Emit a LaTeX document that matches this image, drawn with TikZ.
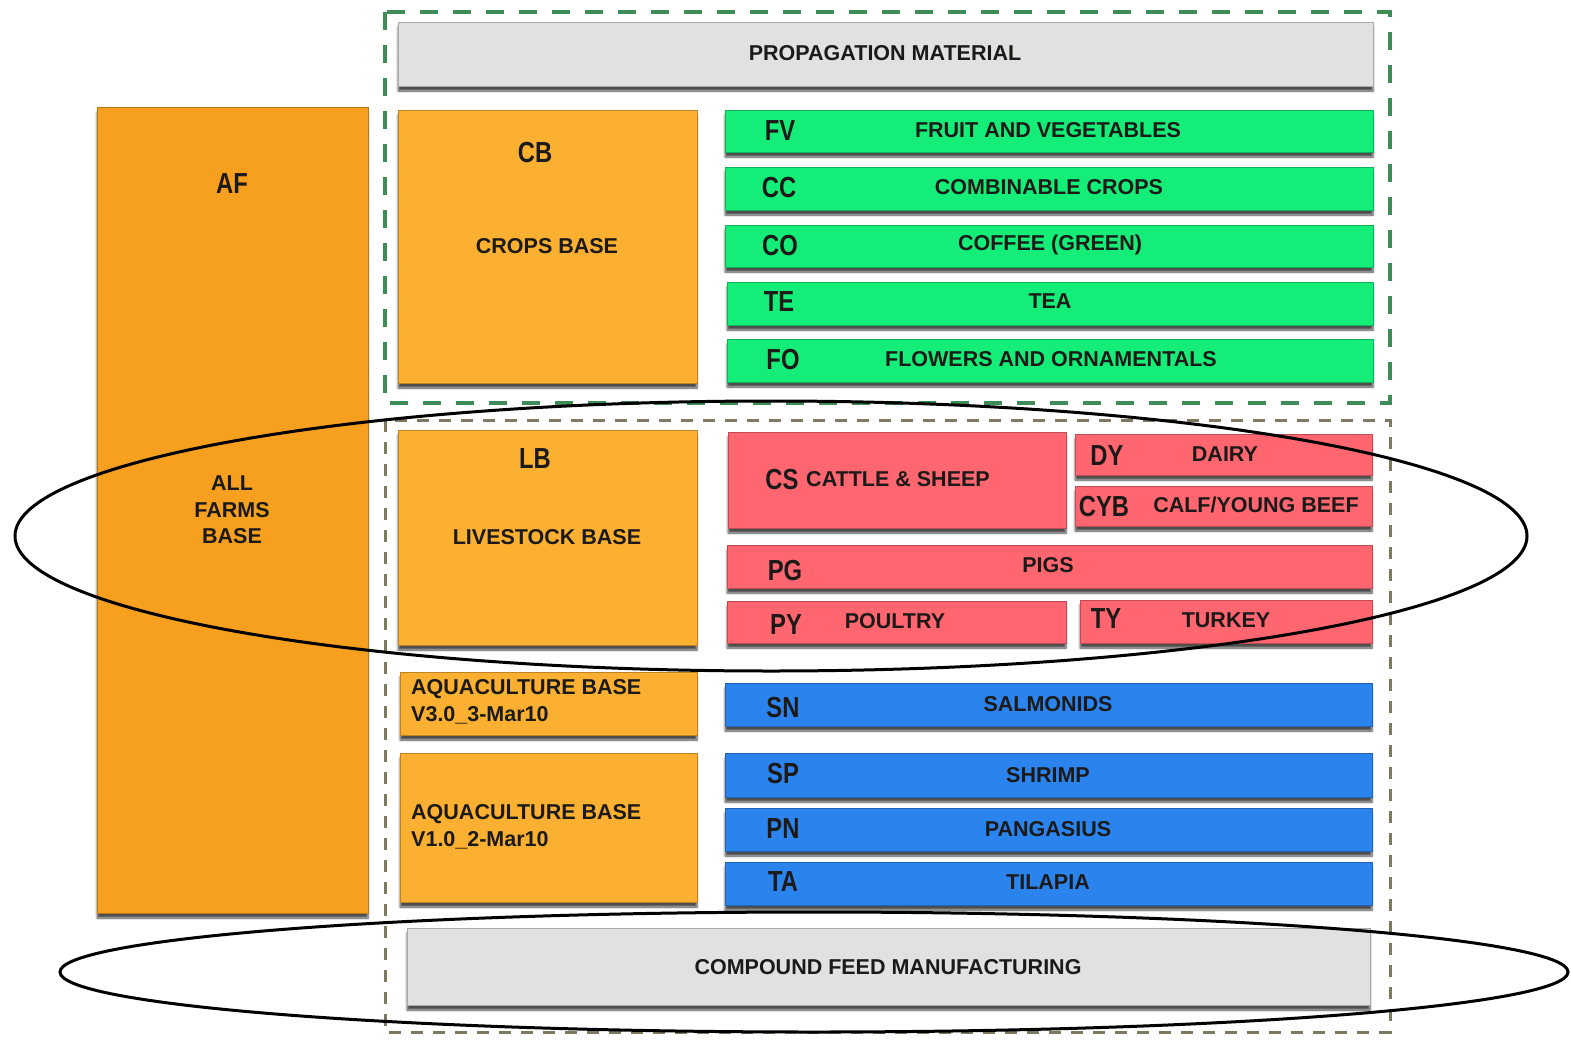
\documentclass[tikz,border=0pt]{standalone}
\usepackage{fontspec}
\setmainfont{Liberation Sans}
\newfontfamily\abbrfont[FakeStretch=0.82]{Liberation Sans}
\usetikzlibrary{shadows.blur}
\definecolor{afor}{HTML}{F7A01F}
\definecolor{bor}{HTML}{FBB032}
\definecolor{grn}{HTML}{14EE78}
\definecolor{rd}{HTML}{FF6670}
\definecolor{blu}{HTML}{2B84EE}
\definecolor{gry}{HTML}{E1E1E1}
\definecolor{gframe}{HTML}{3E8C56}
\definecolor{oframe}{HTML}{7E7A62}
\definecolor{txt}{HTML}{1C1A18}
\tikzset{
  blk/.style={draw=#1!75!black, line width=0.8pt, fill=#1, inner sep=0pt,
    blur shadow={shadow xshift=0pt, shadow yshift=-5pt, shadow blur steps=6, shadow opacity=70}},
  lbl/.style={font=\bfseries\fontsize{21.5}{26.5}\selectfont, text=txt, inner sep=0pt, align=center},
  abb/.style={font=\abbrfont\bfseries\fontsize{29}{30}\selectfont, text=txt, inner sep=0pt},
  ring/.style={draw=black, line width=3pt},
}
\newcommand{\mkbox}[6]{%
  \node[blk=#2, minimum width={#5-#3}, minimum height={#6-#4}] (#1) at ({(#3+#5)/2},{(#4+#6)/2}) {};}
\begin{document}
\begin{tikzpicture}[x=1pt,y=-1pt]
\useasboundingbox (0,0) rectangle (1571,1044);
% frames
\draw[gframe, line width=3.2pt, dash pattern=on 18pt off 15pt] (385,12) rectangle (1390,403);
\draw[oframe, line width=3pt, dash pattern=on 12pt off 10pt] (385,420) rectangle (1390,1032);
% boxes
\mkbox{prop}{gry}{398}{22}{1373}{86}
\mkbox{af}{afor}{97}{107}{368}{913}
\mkbox{cb}{bor}{398}{110}{697}{383}
\mkbox{fv}{grn}{725}{110}{1373}{152}
\mkbox{cc}{grn}{725}{167}{1373}{210}
\mkbox{co}{grn}{725}{225}{1373}{267}
\mkbox{te}{grn}{727}{282}{1373}{325}
\mkbox{fo}{grn}{727}{339}{1373}{382}
\mkbox{lb}{bor}{398}{430}{697}{645}
\mkbox{cs}{rd}{728}{432}{1066}{528}
\mkbox{dy}{rd}{1075}{434}{1372}{475}
\mkbox{cyb}{rd}{1075}{486}{1372}{526}
\mkbox{pg}{rd}{727}{545}{1372}{588}
\mkbox{py}{rd}{727}{601}{1066}{643}
\mkbox{ty}{rd}{1080}{600}{1372}{643}
\mkbox{aqa}{bor}{400}{672}{697}{735}
\mkbox{aqb}{bor}{400}{753}{697}{902}
\mkbox{sn}{blu}{725}{683}{1372}{726}
\mkbox{sp}{blu}{725}{753}{1372}{797}
\mkbox{pn}{blu}{725}{808}{1372}{851}
\mkbox{ta}{blu}{725}{862}{1372}{905}
\mkbox{cf}{gry}{407}{928}{1370}{1005}
% texts
\node[lbl] (tprop) at (885,53) {PROPAGATION MATERIAL};
\node[abb] (taf) at (232,184) {AF};
\node[lbl] (tafb) at (232,510) {ALL\\FARMS\\BASE};
\node[abb] (tcb) at (535,153) {CB};
\node[lbl] (tcbb) at (547,246) {CROPS BASE};
\node[abb] (afv) at (780,131) {FV};
\node[lbl] (lfv) at (1048,130) {FRUIT AND VEGETABLES};
\node[abb] (acc) at (779,188) {CC};
\node[lbl] (lcc) at (1049,187) {COMBINABLE CROPS};
\node[abb] (aco) at (780,246) {CO};
\node[lbl] (lco) at (1050,245) {COFFEE (GREEN)};
\node[abb] (ate) at (779,302) {TE};
\node[lbl] (lte) at (1050,301) {TEA};
\node[abb] (afo) at (783,360) {FO};
\node[lbl] (lfo) at (1051,359) {FLOWERS AND ORNAMENTALS};
\node[abb] (tlb) at (535,459) {LB};
\node[lbl] (tlbb) at (547,537) {LIVESTOCK BASE};
\node[abb] (acs) at (782,480) {CS};
\node[lbl] (lcs) at (898,479) {CATTLE \& SHEEP};
\node[abb] (ady) at (1107,456) {DY};
\node[lbl] (ldy) at (1225,454) {DAIRY};
\node[abb] (acyb) at (1104,507) {CYB};
\node[lbl] (lcyb) at (1256,505) {CALF/YOUNG BEEF};
\node[abb] (apg) at (785,571) {PG};
\node[lbl] (lpg) at (1048,565) {PIGS};
\node[abb] (apy) at (786,625) {PY};
\node[lbl] (lpy) at (895,621) {POULTRY};
\node[abb] (aty) at (1106,619) {TY};
\node[lbl] (lty) at (1226,620) {TURKEY};
\node[lbl, anchor=west, align=left] (taqa) at (411,702) {AQUACULTURE BASE\\V3.0\_3-Mar10};
\node[lbl, anchor=west, align=left] (taqb) at (411,827) {AQUACULTURE BASE\\V1.0\_2-Mar10};
\node[abb] (asn) at (783,708) {SN};
\node[lbl] (lsn) at (1048,704) {SALMONIDS};
\node[abb] (asp) at (783,774) {SP};
\node[lbl] (lsp) at (1048,775) {SHRIMP};
\node[abb] (apn) at (783,829) {PN};
\node[lbl] (lpn) at (1048,829) {PANGASIUS};
\node[abb] (ata) at (783,882) {TA};
\node[lbl] (lta) at (1048,882) {TILAPIA};
\node[lbl] (tcf) at (888,967) {COMPOUND FEED MANUFACTURING};
% ellipses
\draw[ring] (771,536) ellipse [x radius=756, y radius=135];
\draw[ring] (814,972) ellipse [x radius=754, y radius=60];
\end{tikzpicture}
\end{document}
